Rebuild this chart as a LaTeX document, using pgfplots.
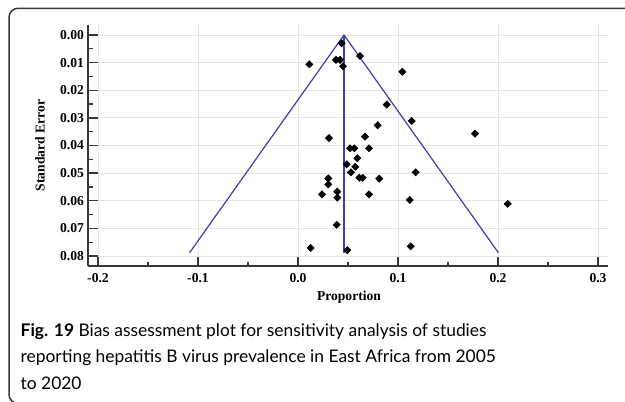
\documentclass[border=0pt]{standalone}
\usepackage{fontspec}
\setmainfont{Liberation Serif}
\newfontfamily\capfont{Lato}
\usepackage{pgfplots}
\pgfplotsset{compat=1.18}
\definecolor{funnelc}{RGB}{62,62,170}
\definecolor{gridc}{RGB}{228,228,228}
\definecolor{axisc}{RGB}{55,55,55}

\pgfplotstableread{
x       se
0.0437  0.0030
0.0113  0.0106
0.0380  0.0090
0.0420  0.0090
0.0450  0.0113
0.0620  0.0076
0.1043  0.0133
0.0887  0.0252
0.1137  0.0311
0.0310  0.0373
0.0670  0.0368
0.0797  0.0327
0.1770  0.0357
0.0520  0.0410
0.0563  0.0410
0.0710  0.0410
0.0593  0.0446
0.0487  0.0468
0.0573  0.0477
0.0530  0.0497
0.1177  0.0497
0.0613  0.0517
0.0647  0.0517
0.0813  0.0520
0.0303  0.0519
0.0303  0.0541
0.0240  0.0577
0.0393  0.0567
0.0393  0.0589
0.0710  0.0577
0.1117  0.0597
0.2097  0.0611
0.0387  0.0687
0.0127  0.0771
0.0493  0.0779
0.1127  0.0765
}\studies

\begin{document}
\begin{tikzpicture}[x=1pt,y=1pt]
\useasboundingbox (0,0) rectangle (625,-402);
% panel frame
\draw[axisc, line width=1.5pt, rounded corners=9pt]
  (627,-8.3) -- (9,-8.3) -- (9,-403.5) -- (60,-403.5);

\begin{axis}[
  at={(88pt,-25pt)}, anchor=north west,
  scale only axis, width=520pt, height=241pt,
  xmin=-0.21, xmax=0.31,
  ymin=-0.00362, ymax=0.08362, y dir=reverse,
  axis x line=bottom, axis y line=left,
  axis line style={-, axisc, line width=1.3pt},
  tick style={axisc, line width=1.3pt},
  tick align=inside,
  major tick length=9.5pt, minor tick length=4.5pt,
  xtick={-0.2,-0.1,0,0.1,0.2,0.3},
  minor xtick={-0.15,-0.05,0.05,0.15,0.25},
  ytick={0,0.01,0.02,0.03,0.04,0.05,0.06,0.07,0.08},
  minor ytick={0.005,0.015,0.025,0.035,0.045,0.055,0.065,0.075},
  grid=major, major grid style={gridc, line width=0.9pt},
  scaled x ticks=false, scaled y ticks=false,
  /pgf/number format/assume math mode=true,
  xticklabel style={yshift=-3.5pt, /pgf/number format/.cd, fixed, fixed zerofill, precision=1},
  yticklabel style={xshift=-0.5pt, /pgf/number format/.cd, fixed, fixed zerofill, precision=2},
  tick label style={font=\fontsize{13.6}{15}\selectfont\bfseries},
  clip=false,
]
% funnel limits and pooled estimate
\addplot[funnelc, line width=1.2pt, no marks]
  coordinates {(-0.1084,0.0788) (0.046,0) (0.2004,0.0788)};
\addplot[funnelc, line width=1.3pt, no marks]
  coordinates {(0.046,0) (0.046,0.0788)};
% individual studies
\addplot[only marks, mark=square*, mark size=2.6pt,
  mark options={rotate=45, fill=black, draw=black}]
  table[x=x, y=se] {\studies};
\end{axis}

\node[font=\fontsize{13.6}{15}\selectfont\bfseries] at (349,-297) {Proportion};
\node[rotate=90, font=\fontsize{13.6}{15}\selectfont\bfseries] at (40,-145.5) {Standard Error};

\begin{scope}[every node/.style={anchor=base west, inner sep=0pt,
    font=\capfont\fontsize{17.4}{20}\selectfont}]
\node at (20.5,-336) {\textbf{Fig. 19} Bias assessment plot for sensitivity analysis of studies};
\node at (20.5,-362.5) {reporting hepatitis B virus prevalence in East Africa from 2005};
\node at (20.5,-389) {to 2020};
\end{scope}
\end{tikzpicture}
\end{document}
